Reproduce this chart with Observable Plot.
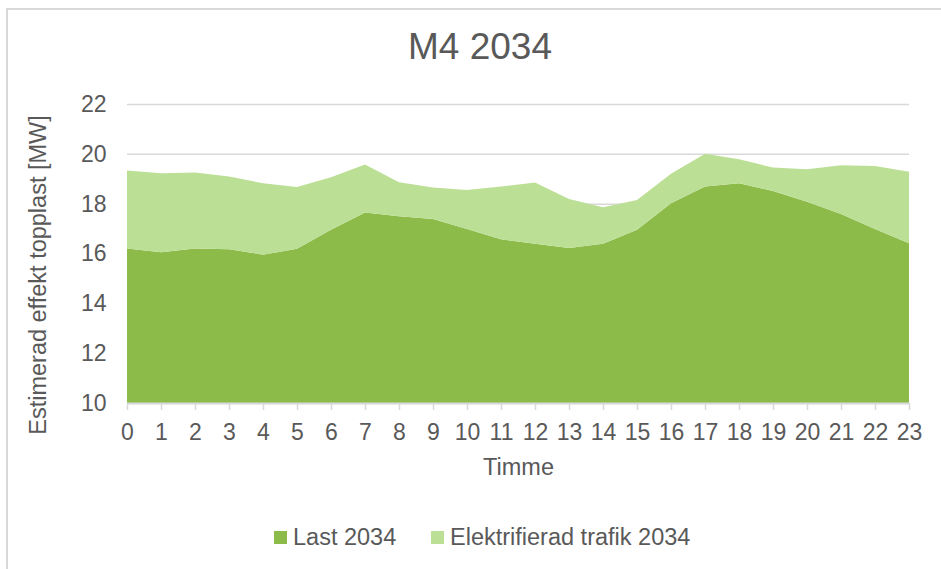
<!DOCTYPE html>
<html>
<head>
<meta charset="utf-8">
<script src="https://cdn.jsdelivr.net/npm/d3@7"></script>
<script src="https://cdn.jsdelivr.net/npm/@observablehq/plot@0.6"></script>
<style>
  body { margin: 0; background: #fff; font-family: "Liberation Sans", Arial, sans-serif; color: #595959; }
  #wrap { position: relative; width: 941px; height: 569px; overflow: hidden; }
  #frame { position: absolute; left: 6px; top: 8px; width: 1200px; height: 1200px; border: 2px solid #d9d9d9; box-sizing: border-box; }
  #title { position: absolute; left: 0; top: 28px; width: 960px; text-align: center; font-size: 37px; line-height: 37px; }
  #chart { position: absolute; left: 0; top: 85px; }
  .leg { position: absolute; top: 526px; display: flex; align-items: center; font-size: 23.5px; line-height: 23px; white-space: nowrap; }
  .sw { width: 13px; height: 13px; margin-right: 6px; }
</style>
</head>
<body>
<div id="wrap">
  <div id="frame"></div>
  <div id="title"></div>
  <div id="chart"></div>
  <div id="legend"></div>
</div>
<script>
// ---- data ----
const titleText = "M4 2034";
const xLabel = "Timme";
const yLabel = "Estimerad effekt topplast [MW]";
const seriesNames = ["Last 2034", "Elektrifierad trafik 2034"];
const hours = [0,1,2,3,4,5,6,7,8,9,10,11,12,13,14,15,16,17,18,19,20,21,22,23];
const last2034 = [16.20,16.05,16.20,16.17,15.95,16.19,16.95,17.65,17.49,17.38,16.98,16.57,16.39,16.22,16.39,16.95,18.02,18.69,18.82,18.51,18.08,17.59,16.98,16.41];
const trafik2034 = [3.13,3.17,3.05,2.92,2.87,2.48,2.11,1.92,1.37,1.27,1.57,2.12,2.46,1.97,1.47,1.20,1.18,1.31,0.96,0.94,1.30,1.95,2.53,2.87];
const yTicks = [10,12,14,16,18,20,22];

// ---- style ----
const seriesColors = ["#8cbb4a", "#bcdf96"];
const textColor = "#595959";
const gridColor = "#d9d9d9";

const rows = [];
hours.forEach((h, i) => {
  rows.push({hour: h, series: seriesNames[0], value: last2034[i]});
  rows.push({hour: h, series: seriesNames[1], value: trafik2034[i]});
});

document.getElementById("title").textContent = titleText;

const chart = Plot.plot({
  width: 941,
  height: 400,
  marginTop: 19,
  marginBottom: 82,
  marginLeft: 127,
  marginRight: 32,
  style: {fontFamily: "'Liberation Sans', Arial, sans-serif", fontSize: "23px", color: textColor, background: "transparent", overflow: "visible"},
  x: {domain: [hours[0], hours[hours.length - 1]], label: null},
  y: {domain: [yTicks[0], yTicks[yTicks.length - 1]], label: null},
  color: {domain: seriesNames, range: seriesColors},
  marks: [
    Plot.gridY(yTicks, {stroke: gridColor, strokeOpacity: 1, strokeWidth: 1.5}),
    Plot.areaY(rows, {x: "hour", y: "value", fill: "series", order: seriesNames, clip: true}),
    Plot.ruleY([yTicks[0]], {stroke: gridColor, strokeWidth: 2}),
    Plot.axisX(hours, {tickSize: 7, tickPadding: 13, stroke: gridColor, strokeWidth: 1.5, strokeOpacity: 1, fill: textColor, fontSize: 23, label: null}),
    Plot.axisY(yTicks, {tickSize: 0, tickPadding: 21, fill: textColor, fontSize: 23, label: null}),
    Plot.text([xLabel], {frameAnchor: "bottom", lineAnchor: "middle", textAnchor: "middle", dy: 64, fill: textColor, fontSize: 23.5}),
    Plot.text([yLabel], {frameAnchor: "left", lineAnchor: "middle", textAnchor: "middle", dx: -89, dy: 21, rotate: -90, fill: textColor, fontSize: 23.5})
  ]
});
document.getElementById("chart").appendChild(chart);

const legend = document.getElementById("legend");
const legLeft = [274, 431];
seriesNames.forEach((name, i) => {
  const item = document.createElement("div");
  item.className = "leg";
  item.style.left = legLeft[i] + "px";
  const sw = document.createElement("div");
  sw.className = "sw";
  sw.style.background = seriesColors[i];
  const t = document.createElement("span");
  t.textContent = name;
  item.appendChild(sw);
  item.appendChild(t);
  legend.appendChild(item);
});
</script>
</body>
</html>
